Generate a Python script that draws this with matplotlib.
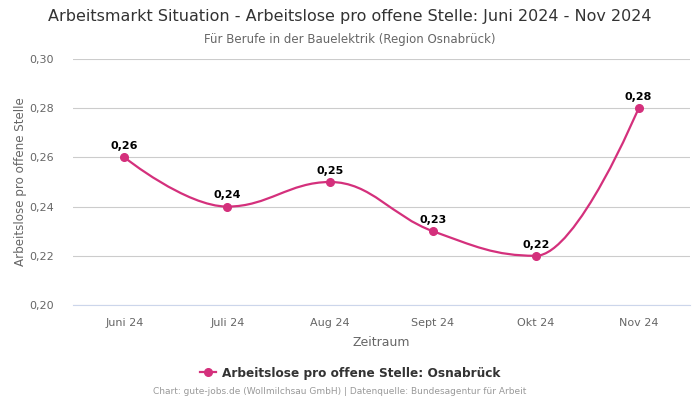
import numpy as np
import matplotlib
matplotlib.use("Agg")
import matplotlib.pyplot as plt
from matplotlib.path import Path
from matplotlib.patches import PathPatch
from matplotlib.lines import Line2D

# data
months = ["Juni 24", "Juli 24", "Aug 24", "Sept 24", "Okt 24", "Nov 24"]
values = [0.26, 0.24, 0.25, 0.23, 0.22, 0.28]
y_ticks = [0.20, 0.22, 0.24, 0.26, 0.28, 0.30]

title = "Arbeitsmarkt Situation - Arbeitslose pro offene Stelle: Juni 2024 - Nov 2024"
subtitle = "Für Berufe in der Bauelektrik (Region Osnabrück)"
series_name = "Arbeitslose pro offene Stelle: Osnabrück"
credit = "Chart: gute-jobs.de (Wollmilchsau GmbH) | Datenquelle: Bundesagentur für Arbeit"

color = "#d4307c"


def de(v):
    return f"{v:.2f}".replace(".", ",")


def spline_path(xs, ys, smoothing=1.5):
    # bezier control points, highcharts style spline
    n = len(xs)
    left = [None] * n
    right = [None] * n
    for i in range(n):
        x, y = xs[i], ys[i]
        if i == 0 or i == n - 1:
            left[i] = (x, y)
            right[i] = (x, y)
            continue
        lx, ly = xs[i - 1], ys[i - 1]
        nx, ny = xs[i + 1], ys[i + 1]
        d = smoothing + 1
        lcx = (smoothing * x + lx) / d
        lcy = (smoothing * y + ly) / d
        rcx = (smoothing * x + nx) / d
        rcy = (smoothing * y + ny) / d
        corr = (rcy - lcy) * (rcx - x) / (rcx - lcx) + y - rcy
        lcy += corr
        rcy += corr
        if lcy > ly and lcy > y:
            lcy = max(ly, y)
            rcy = 2 * y - lcy
        elif lcy < ly and lcy < y:
            lcy = min(ly, y)
            rcy = 2 * y - lcy
        if rcy > ny and rcy > y:
            rcy = max(ny, y)
            lcy = 2 * y - rcy
        elif rcy < ny and rcy < y:
            rcy = min(ny, y)
            lcy = 2 * y - rcy
        left[i] = (lcx, lcy)
        right[i] = (rcx, rcy)
    verts = [(xs[0], ys[0])]
    codes = [Path.MOVETO]
    for i in range(1, n):
        verts += [right[i - 1], left[i], (xs[i], ys[i])]
        codes += [Path.CURVE4] * 3
    return Path(verts, codes)


fig = plt.figure(figsize=(7, 4), dpi=100)
ax = fig.add_axes([73 / 700, 1 - 305 / 400, 617 / 700, 246 / 400])

x = np.arange(len(months))
ax.add_patch(PathPatch(spline_path(x, values), fill=False, edgecolor=color, lw=1.6, zorder=3))
ax.plot(x, values, "o", color=color, ms=5.5, zorder=4)
for xi, v in zip(x, values):
    ax.annotate(de(v), (xi, v), xytext=(0, 4.5), textcoords="offset points",
                ha="center", va="bottom", fontsize=8, fontweight="bold", color="black")

ax.set_xlim(-0.5, len(months) - 0.5)
ax.set_ylim(0.20, 0.30)
ax.set_yticks(y_ticks)
ax.set_yticklabels([de(t) for t in y_ticks])
ax.set_xticks(x)
ax.set_xticklabels(months)
ax.tick_params(axis="both", length=0, labelsize=8, labelcolor="#666666")
ax.tick_params(axis="x", pad=9)
ax.tick_params(axis="y", pad=14)
ax.grid(axis="y", color="#cccccc", lw=0.8)
ax.set_axisbelow(True)
for s in ["top", "right", "left"]:
    ax.spines[s].set_visible(False)
ax.spines["bottom"].set_color("#ccd6eb")
ax.spines["bottom"].set_linewidth(0.8)

ax.set_xlabel("Zeitraum", fontsize=9, color="#666666", labelpad=6)
ax.set_ylabel("Arbeitslose pro offene Stelle", fontsize=8.6, color="#666666", labelpad=1)

fig.text(0.5, 1 - 17 / 400, title, ha="center", va="center", fontsize=11.5, color="#333333")
fig.text(0.5, 1 - 39 / 400, subtitle, ha="center", va="center", fontsize=8.5, color="#666666")

handle = Line2D([], [], color=color, marker="o", ms=5.5, lw=1.6)
fig.legend([handle], [series_name], loc="center", bbox_to_anchor=(0.5, 1 - 373 / 400),
           frameon=False, prop={"size": 8.7, "weight": "bold"}, labelcolor="#333333",
           handlelength=1.3, handletextpad=0.5)

fig.text(340 / 700, 1 - 392 / 400, credit, ha="center", va="center", fontsize=6.5, color="#999999")

fig.savefig("out.png", dpi=100)
